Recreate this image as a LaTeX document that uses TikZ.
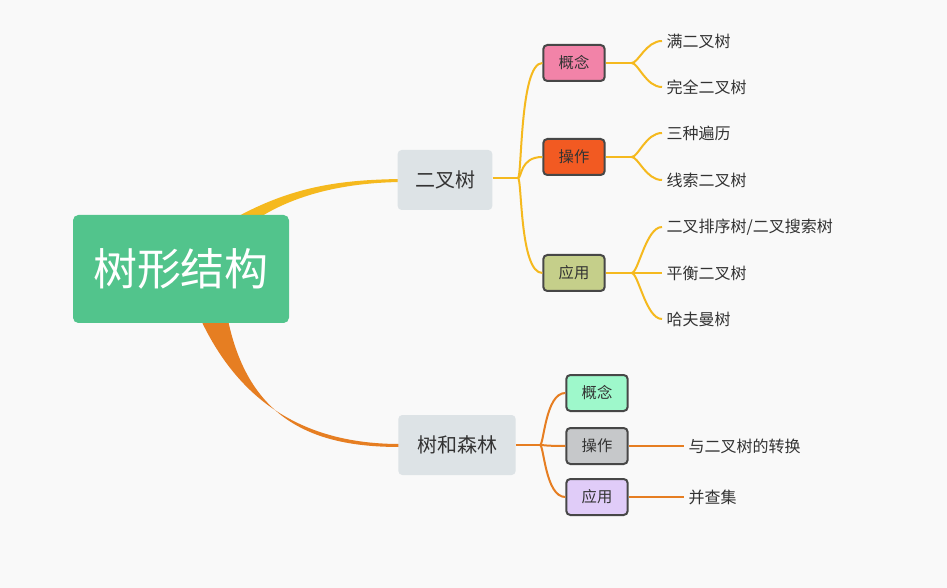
\documentclass[tikz,border=0pt]{standalone}
\usepackage{fontspec}
\setmainfont{Noto Sans CJK SC}
\definecolor{bg}{HTML}{F9F9F9}
\definecolor{rootgreen}{HTML}{52C48C}
\definecolor{topgray}{HTML}{DDE3E6}
\definecolor{lineyel}{HTML}{F5B91E}
\definecolor{lineora}{HTML}{E67E22}
\definecolor{cpink}{HTML}{F283A8}
\definecolor{cred}{HTML}{F25A22}
\definecolor{colive}{HTML}{C5CF8A}
\definecolor{cmint}{HTML}{9EF8CB}
\definecolor{cgray}{HTML}{C6C8CA}
\definecolor{clav}{HTML}{E0CCF8}
\definecolor{txt}{HTML}{333333}
\tikzset{
  x=0.75pt,y=-0.75pt,
  topic/.style={fill=topgray,rounded corners=3pt,minimum width=71pt,minimum height=45pt,font=\fontsize{15}{18}\selectfont,text=txt},
  sub/.style={draw=txt!90,line width=1.5pt,rounded corners=3pt,minimum width=46pt,minimum height=27pt,font=\fontsize{11.5}{14}\selectfont,text=txt},
  leaf/.style={anchor=west,font=\fontsize{12}{14}\selectfont,text=txt},
  yl/.style={lineyel,line width=1.5pt},
  ol/.style={lineora,line width=1.5pt},
}
\begin{document}
\begin{tikzpicture}
  \fill[bg] (0,0) rectangle (947,588);
  \useasboundingbox (0,0) rectangle (947,588);

  % main branches
  \fill[lineyel] (228,222) .. controls (290,186) and (340,180) .. (400,179) -- (400,182) .. controls (340,183) and (295,196) .. (262,216) -- cycle;
  \fill[lineora] (200,318) .. controls (245,415) and (320,444) .. (400,444) -- (400,447) .. controls (320,447) and (250,425) .. (228,320) -- cycle;

  \node[fill=rootgreen,rounded corners=4pt,minimum width=162pt,minimum height=81pt,text=white,font=\fontsize{33}{38}\selectfont] (root) at (181,269) {树形结构};
  \node[topic] (bt) at (445,180) {二叉树};
  \node[topic,minimum width=88pt] (tf) at (457,445) {树和森林};

  \node[sub,fill=cpink] (bt1) at (574,63) {概念};
  \node[sub,fill=cred] (bt2) at (574,157) {操作};
  \node[sub,fill=colive] (bt3) at (574,273) {应用};
  \node[sub,fill=cmint] (tf1) at (597,393) {概念};
  \node[sub,fill=cgray] (tf2) at (597,446) {操作};
  \node[sub,fill=clav] (tf3) at (597,497) {应用};

  \node[leaf] (l1) at (662,41) {满二叉树};
  \node[leaf] (l2) at (662,87) {完全二叉树};
  \node[leaf] (l3) at (662,133) {三种遍历};
  \node[leaf] (l4) at (662,180) {线索二叉树};
  \node[leaf] (l5) at (662,227) {二叉排序树/二叉搜索树};
  \node[leaf] (l6) at (662,273) {平衡二叉树};
  \node[leaf] (l7) at (662,319) {哈夫曼树};
  \node[leaf] (l8) at (684,446) {与二叉树的转换};
  \node[leaf] (l9) at (684,497) {并查集};

  % binary tree branches
  \coordinate (bj) at (518,178);
  \draw[yl] (bt.east |- bj) -- (bj);
  \foreach \c in {bt1,bt2,bt3}
    \draw[yl] (bj) .. controls ([xshift=3pt]bj) and ([xshift=-17pt]\c.west) .. (\c.west);
  \foreach \c/\a/\b in {bt1/l1/l2,bt2/l3/l4,bt3/l6/l7} {
    \draw[yl] (\c.east) -- ++(26,0) coordinate (j);
    \draw[yl] (j) .. controls ([xshift=5pt]j) and ([xshift=-12pt]\a.west) .. (\a.west);
    \draw[yl] (j) .. controls ([xshift=5pt]j) and ([xshift=-12pt]\b.west) .. (\b.west);
  }
  \path (bt3.east) ++(26,0) coordinate (j3);
  \draw[yl] (j3) .. controls ([xshift=5pt]j3) and ([xshift=-12pt]l5.west) .. (l5.west);

  % forest branches
  \coordinate (fj) at (540,445);
  \draw[ol] (tf.east |- fj) -- (fj);
  \foreach \c in {tf1,tf2,tf3}
    \draw[ol] (fj) .. controls ([xshift=3pt]fj) and ([xshift=-15pt]\c.west) .. (\c.west);
  \draw[ol] (tf2.east) -- (l8.west);
  \draw[ol] (tf3.east) -- (l9.west);
\end{tikzpicture}
\end{document}
